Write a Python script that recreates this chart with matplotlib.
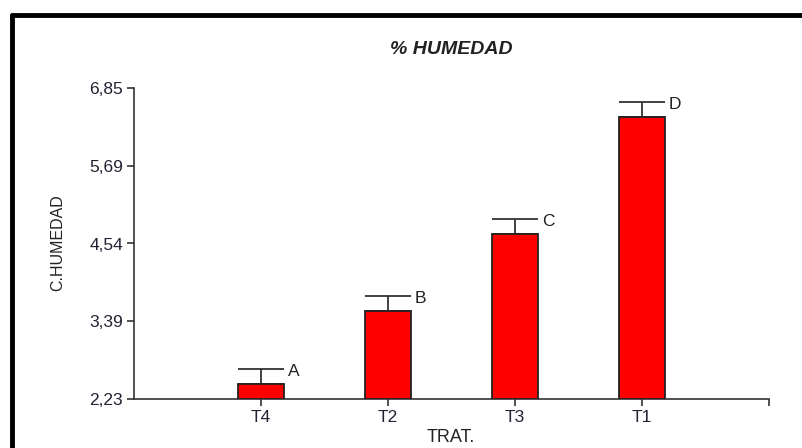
import numpy as np
import matplotlib.pyplot as plt
from matplotlib.lines import Line2D

plt.rcParams['font.family'] = ['Liberation Sans', 'DejaVu Sans']

# Medias de humedad por tratamiento
tratamientos = ['T4', 'T2', 'T3', 'T1']
medias = [2.45, 3.54, 4.68, 6.42]
errores = [0.22, 0.22, 0.22, 0.22]
letras = ['A', 'B', 'C', 'D']
yticks = [2.23, 3.39, 4.54, 5.69, 6.85]
ytick_labels = ['2,23', '3,39', '4,54', '5,69', '6,85']

W, H = 803, 448
fig = plt.figure(figsize=(W / 100, H / 100), dpi=100)

# Marco exterior (arriba e izquierda)
fig.add_artist(Line2D([12 / W, 1.0], [1 - 15 / H, 1 - 15 / H], color='black', lw=3.5,
                      transform=fig.transFigure, solid_capstyle='round'))
fig.add_artist(Line2D([12 / W, 12 / W], [0.0, 1 - 15 / H], color='black', lw=3.5,
                      transform=fig.transFigure, solid_capstyle='round'))

ax = fig.add_axes([134 / W, (H - 399) / H, (769 - 134) / W, (399 - 88) / H])

x = np.arange(1, len(tratamientos) + 1)
ax.bar(x, np.array(medias) - yticks[0], bottom=yticks[0], width=0.36,
       color='#ff0000', edgecolor='#222222', linewidth=1.3, zorder=3)
ax.errorbar(x, medias, yerr=[np.zeros(len(errores)), errores], fmt='none',
            ecolor='#333333', elinewidth=1.3, capsize=16.5, capthick=1.3, zorder=2)

for xi, m, e, l in zip(x, medias, errores, letras):
    ax.text(xi + 0.21, m + e - 0.03, l, fontsize=12.5, color='#222222',
            ha='left', va='center')

ax.set_xlim(0, 5)
ax.set_ylim(yticks[0], yticks[-1])
ax.set_xticks(list(x) + [5])
ax.set_xticklabels(tratamientos + [''])
ax.set_yticks(yticks)
ax.set_yticklabels(ytick_labels)
ax.tick_params(direction='out', length=5, width=1.2, labelsize=12.5,
               colors='#333333', labelcolor='#222233', pad=3)

for s in ['top', 'right']:
    ax.spines[s].set_visible(False)
for s in ['left', 'bottom']:
    ax.spines[s].set_linewidth(1.2)
    ax.spines[s].set_color('#333333')

fig.text(451 / W, 1 - 50 / H, '% HUMEDAD', fontsize=14, fontweight='bold',
         fontstyle='italic', ha='center', va='center', color='#222222')
fig.text(58 / W, 1 - 243 / H, 'C.HUMEDAD', fontsize=11.5, rotation=90,
         ha='center', va='center', color='#222222')
fig.text(451 / W, 1 - 437 / H, 'TRAT.', fontsize=13,
         ha='center', va='center', color='#222222')

plt.savefig('out.png', dpi=100)
plt.close()
